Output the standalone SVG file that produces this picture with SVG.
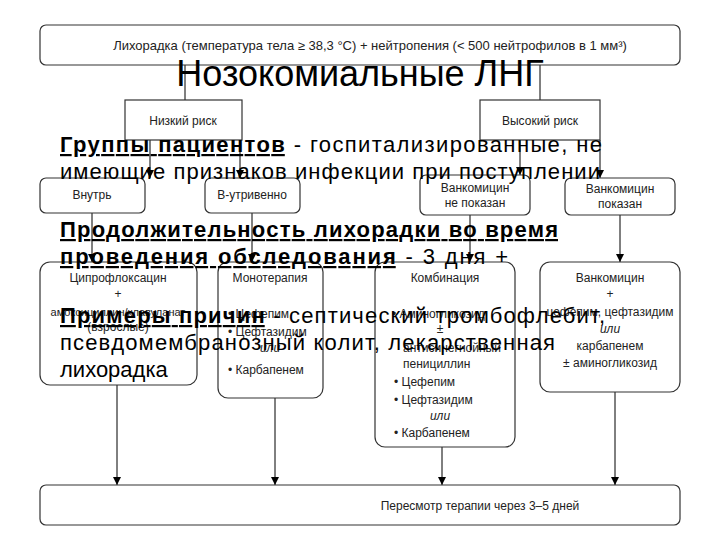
<svg xmlns="http://www.w3.org/2000/svg" width="720" height="540" viewBox="0 0 720 540">
<defs><marker id="a" markerWidth="8" markerHeight="8" refX="8" refY="4" orient="auto" markerUnits="userSpaceOnUse"><path d="M0,0 L8,4 L0,8 Z" fill="#000"/></marker></defs>
<style>
.b{fill:#fff;stroke:#333;stroke-width:1.2}
.t{font-family:"Liberation Sans Narrow","Liberation Sans",sans-serif;font-size:12px;fill:#222;text-anchor:middle}
.l{text-anchor:start}
.c{stroke:#000;stroke-width:1;fill:none}
.o{font-family:"Liberation Sans",sans-serif;font-size:22px;fill:#000}
</style>
<rect width="720" height="540" fill="#fff"/>
<g id="connectors">
<path class="c" d="M185,65 V100 M540,65 V100"/>
<path class="c" d="M150,140 V178" marker-end="url(#a)"/>
<path class="c" d="M240,140 V178" marker-end="url(#a)"/>
<path class="c" d="M520,140 V175" marker-end="url(#a)"/>
<path class="c" d="M600,140 V178" marker-end="url(#a)"/>
<path class="c" d="M92,213 V262" marker-end="url(#a)"/>
<path class="c" d="M252,213 V262" marker-end="url(#a)"/>
<path class="c" d="M470,215 V262" marker-end="url(#a)"/>
<path class="c" d="M620,215 V262" marker-end="url(#a)"/>
<path class="c" d="M117,385 V485" marker-end="url(#a)"/>
<path class="c" d="M275,398 V485" marker-end="url(#a)"/>
<path class="c" d="M442,447 V485" marker-end="url(#a)"/>
<path class="c" d="M615,392 V485" marker-end="url(#a)"/>
</g>
<g id="top"><rect class="b" x="40" y="25" width="640" height="40" rx="6"/><text class="t" x="370" y="50" style="font-size:13px">Лихорадка (температура тела ≥ 38,3 °C) + нейтропения (&lt; 500 нейтрофилов в 1 мм³)</text></g>
<g id="low"><rect class="b" x="125" y="100" width="117" height="40"/><text class="t" x="183" y="125">Низкий риск</text></g>
<g id="high"><rect class="b" x="480" y="100" width="120" height="40"/><text class="t" x="540" y="125">Высокий риск</text></g>
<g id="oral"><rect class="b" x="40" y="178" width="105" height="35" rx="6"/><text class="t" x="92" y="199">Внутрь</text></g>
<g id="iv"><rect class="b" x="205" y="178" width="95" height="35" rx="6"/><text class="t" x="252" y="199">В-утривенно</text></g>
<g id="vno"><rect class="b" x="420" y="175" width="110" height="40" rx="6"/><text class="t" x="475" y="192">Ванкомицин</text><text class="t" x="475" y="207">не показан</text></g>
<g id="vyes"><rect class="b" x="565" y="178" width="110" height="37" rx="6"/><text class="t" x="620" y="193">Ванкомицин</text><text class="t" x="620" y="208">показан</text></g>
<g id="cipro"><rect class="b" x="40" y="262" width="157" height="123" rx="10"/><text class="t" x="118" y="282">Ципрофлоксацин</text><text class="t" x="118" y="298">+</text><text class="t" x="118" y="316" style="font-size:11px">амоксициллин/клавуланат</text><text class="t" x="118" y="331">(взрослые)</text></g>
<g id="mono"><rect class="b" x="218" y="262" width="105" height="136" rx="10"/><text class="t" x="270" y="282">Монотерапия</text><text class="t l" x="228" y="318">• Цефепим</text><text class="t l" x="228" y="336">• Цефтазидим</text><text class="t" x="270" y="352" style="font-style:italic">или</text><text class="t l" x="228" y="374">• Карбапенем</text></g>
<g id="combo"><rect class="b" x="375" y="262" width="140" height="185" rx="10"/><text class="t" x="445" y="282">Комбинация</text><text class="t l" x="392" y="318">• Аминогликозид</text><text class="t" x="440" y="333">±</text><text class="t l" x="403" y="352">антисинегнойный</text><text class="t l" x="403" y="368">пенициллин</text><text class="t l" x="394" y="386">• Цефепим</text><text class="t l" x="394" y="404">• Цефтазидим</text><text class="t" x="440" y="420" style="font-style:italic">или</text><text class="t l" x="394" y="437">• Карбапенем</text></g>
<g id="vanc"><rect class="b" x="540" y="262" width="140" height="130" rx="10"/><text class="t" x="610" y="282">Ванкомицин</text><text class="t" x="610" y="298">+</text><text class="t" x="610" y="316">цефепим, цефтазидим</text><text class="t" x="610" y="333" style="font-style:italic">или</text><text class="t" x="610" y="350">карбапенем</text><text class="t" x="610" y="367">± аминогликозид</text></g>
<g id="bottom"><rect class="b" x="40" y="485" width="640" height="40" rx="6"/><text class="t" x="480" y="510">Пересмотр терапии через 3–5 дней</text></g>
<g id="overlay">
<text x="360" y="86" style="font-family:'Liberation Sans',sans-serif;font-size:36px;text-anchor:middle">Нозокомиальные ЛНГ</text>
<text class="o" x="60" y="152" textLength="542"><tspan font-weight="bold" text-decoration="underline">Группы пациентов</tspan> - госпитализированные, не</text>
<text class="o" x="60" y="179" textLength="540">имеющие признаков инфекции при поступлении</text>
<text class="o" x="60" y="237" textLength="498" font-weight="bold" text-decoration="underline">Продолжительность лихорадки во время</text>
<text class="o" x="60" y="264" textLength="448"><tspan font-weight="bold" text-decoration="underline">проведения обследования</tspan> - 3 дня +</text>
<text class="o" x="60" y="323" textLength="545"><tspan font-weight="bold" text-decoration="underline">Примеры причин</tspan> - септический тромбофлебит,</text>
<text class="o" x="60" y="350" textLength="495">псевдомембранозный колит, лекарственная</text>
<text class="o" x="60" y="377">лихорадка</text>
</g>
</svg>
